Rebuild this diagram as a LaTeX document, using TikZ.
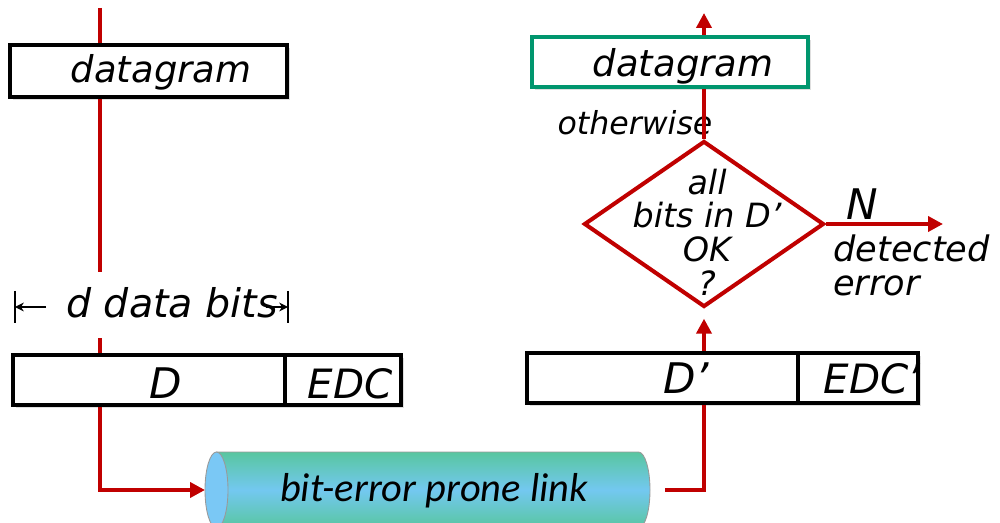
\documentclass[tikz,border=0pt]{standalone}
\usepackage{fontspec}
\setmainfont{DejaVu Sans}
\newfontfamily\linkfont{Carlito}
\usetikzlibrary{arrows.meta,shapes.geometric,shadows}
\definecolor{flowred}{RGB}{192,0,0}
\definecolor{boxgreen}{RGB}{0,150,110}
\definecolor{tubegreen}{RGB}{88,198,160}
\definecolor{tubeblue}{RGB}{115,200,240}
\definecolor{capblue}{RGB}{122,200,245}
\begin{document}
\begin{tikzpicture}[x=0.02cm,y=-0.02cm,
  flow/.style={draw=flowred,line width=2.3pt},
  flowarrow/.style={flow,-{Triangle[length=8.5pt,width=8.5pt]}},
  hand/.style={font=\itshape\fontsize{#1}{#1}\selectfont,inner sep=0pt},
  hand/.default=21,
  frame/.style={draw=black,line width=2pt,fill=white,inner sep=0pt,
    drop shadow={opacity=0.25,shadow xshift=1.5pt,shadow yshift=-1.5pt}},
  gframe/.style={frame,draw=boxgreen,line width=1.8pt},
  dimarrow/.style={line width=0.9pt,-{Stealth[length=5pt,width=5pt]}},
  dimbar/.style={line width=0.6pt},
]
\useasboundingbox (0,0) rectangle (1000,523);
\clip (0,0) rectangle (1000,523);

% ---------- sender side ----------
\node[frame,minimum width=5.54cm,minimum height=1.04cm] (dgL) at (148.5,71) {};
\node[hand] (dgLtext) at (161,83) [anchor=base] {datagram};

\node[frame,minimum width=7.76cm,minimum height=1cm] (dbox) at (207,380) {};
\draw[line width=2pt] (285,355) -- (285,405);
\node[hand=24,anchor=base] (dtext) at (166,398) {D};
\node[hand=23,anchor=base] (edctext) at (350,398) {EDC};

% d data bits dimension
\coordinate (bl) at (15,307);
\coordinate (blstart) at (46,307);
\coordinate (br) at (288,307);
\coordinate (brstart) at (266,307);
\draw[dimbar] (15,291) -- (15,323);
\draw[dimbar] (288,291) -- (288,323);
\draw[dimarrow] (blstart) -- (bl);
\node[hand=22.5,anchor=base] (dbits) at (172,317) {d data bits};
\draw[dimarrow] (brstart) -- (br);

% ---------- link ----------
\shadedraw[top color=tubegreen,bottom color=tubegreen,middle color=tubeblue,
  draw=gray!80,line width=0.5pt]
  (216.5,452) -- (638.5,452)
  arc[start angle=90,end angle=-90,x radius=0.23cm,y radius=0.76cm]
  -- (216.5,528) -- cycle;
\filldraw[fill=capblue,draw=gray!80,line width=0.5pt]
  (216.5,490) ellipse [x radius=0.23cm,y radius=0.76cm];
\node[font=\linkfont\itshape\fontsize{23}{23}\selectfont,anchor=base,inner sep=0pt]
  (link) at (434,501) {bit-error prone link};
\coordinate (linkin) at (205,490);
\coordinate (linkout) at (665,490);

% ---------- receiver side ----------
\node[frame,minimum width=7.82cm,minimum height=1cm] (dpbox) at (722.5,378) {};
\draw[line width=2pt] (798,353) -- (798,403);
\node[hand=24,anchor=base] (dptext) at (686,393) {D’};
\node[hand=23,anchor=base] (edcptext) at (872,393) {EDC’};

\node[diamond,draw=flowred,line width=2.3pt,fill=white,inner sep=0pt,
  minimum width=4.8cm,minimum height=3.32cm] (chk) at (704,224) {};
\node[font=\itshape\fontsize{19}{19.1}\selectfont,align=center,inner sep=0pt]
  (chktext) at (707,232) {all\\bits in D’\\OK\\?};

\node[gframe,minimum width=5.52cm,minimum height=1cm] (dgR) at (670,62) {};
\node[hand,anchor=base] (dgRtext) at (683,77) {datagram};

\node[hand=18,anchor=base] (other) at (635,135) {otherwise};
\node[hand=24,anchor=base] (nlabel) at (862,220) {N};
\node[hand=20,anchor=base west] (det) at (833,262) {detected};
\node[hand=20,anchor=base west] (err) at (833,296) {error};

\coordinate (ltop) at (100,8);
\coordinate (lgap1) at (100,272);
\coordinate (lgap2) at (100,338);
\coordinate (rtop) at (704,13);
\coordinate (nend) at (943,224);

% ---------- connectors ----------
\draw[flow] (ltop) -- (ltop |- dgL.north);
\draw[flow] (ltop |- dgL.south) -- (lgap1);
\draw[flow] (lgap2) -- (lgap2 |- dbox.north);
\draw[flowarrow] (lgap2 |- dbox.south) |- (linkin);

\draw[flow] (linkout) -| (chk |- dpbox.south);
\draw[flowarrow,shorten >=5.5pt] (chk |- dpbox.north) -- (chk.south);
\draw[flowarrow] (chk.east) -- (nend);
\draw[flow] (chk.north) -- (chk |- dgR.south);
\draw[flowarrow] (chk |- dgR.north) -- (rtop);
\end{tikzpicture}
\end{document}
